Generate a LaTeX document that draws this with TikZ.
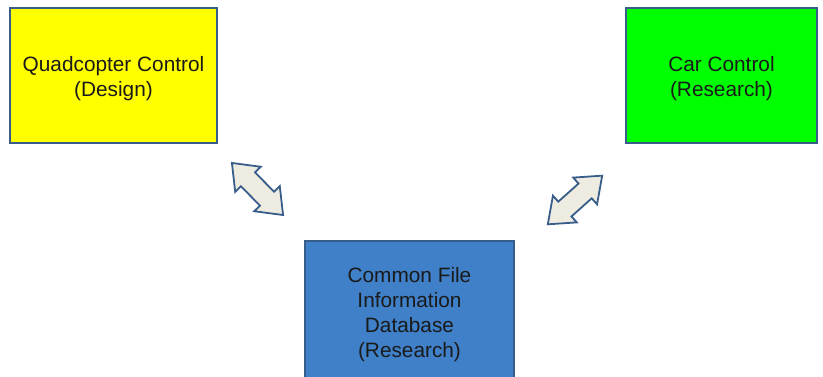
\documentclass[tikz,border=0pt]{standalone}
\usepackage{fontspec}
\setmainfont{Liberation Sans}
\usetikzlibrary{shapes.arrows}
\definecolor{boxline}{HTML}{385D8A}
\definecolor{quadyellow}{HTML}{FFFF00}
\definecolor{cargreen}{HTML}{00FF00}
\definecolor{dbblue}{HTML}{3F80C8}
\definecolor{linkfill}{HTML}{EEECE1}
\definecolor{textdark}{HTML}{1A1A1A}
\newcommand{\topgap}{\rule{0pt}{22pt}}

\begin{document}
\begin{tikzpicture}[
    x=1pt, y=1pt,
    box/.style={draw=boxline, rectangle, line width=1.8pt, align=center, text=textdark,
        font=\fontsize{20.8}{25}\selectfont, inner sep=0pt, minimum height=135pt},
    link/.style={draw=boxline, fill=linkfill, double arrow, line width=1.8pt,
        inner xsep=0pt, inner ysep=9pt, minimum height=73pt,
        double arrow head extend=8pt, double arrow tip angle=76}
]
    \useasboundingbox (0,0) rectangle (823,377);
    \clip (0,0) rectangle (823,377);

    % Design side (top left)
    \node[box, fill=quadyellow, minimum width=207pt] (quad) at (113.5, 301.5) {
        \topgap Quadcopter Control \\
        (Design)
    };

    % Research side (top right)
    \node[box, fill=cargreen, minimum width=191pt] (car) at (721.5, 301.5) {
        \topgap Car Control \\
        (Research)
    };

    % Shared database (bottom middle)
    \node[box, fill=dbblue, minimum width=209pt, minimum height=140pt] (database) at (409.5, 66) {
        \topgap Common File \\
        Information \\
        Database \\
        (Research)
    };

    % Two-way links
    \node[link, rotate=-45.5] (quadlink) at (257.5, 188) {};
    \node[link, rotate=41.8] (carlink) at (575, 177) {};

\end{tikzpicture}
\end{document}
